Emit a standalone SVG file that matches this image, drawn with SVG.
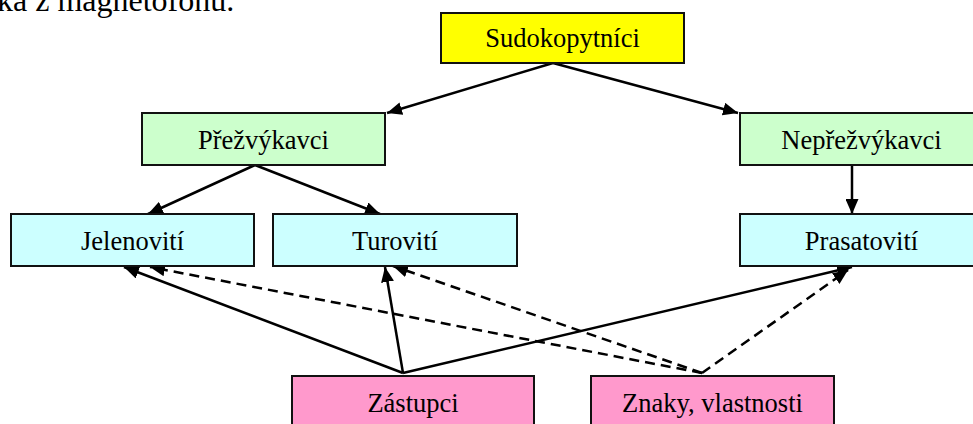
<svg xmlns="http://www.w3.org/2000/svg" width="973" height="424" viewBox="0 0 973 424">
<style>
.box{stroke:#111;stroke-width:2}
.t{font-family:"Liberation Serif","Times New Roman",serif;font-size:26.5px;fill:#000;text-anchor:middle}
.c{stroke:#000;stroke-width:2.5;fill:none;marker-end:url(#ah)}
.d{stroke-dasharray:10 6}
</style>
<defs>
<marker id="ah" markerUnits="userSpaceOnUse" markerWidth="16" markerHeight="13" refX="15" refY="6.5" orient="auto">
<path d="M0,0 L15,6.5 L0,13 z" fill="#000"/>
</marker>
</defs>
<rect width="973" height="424" fill="#fff"/>
<text x="-3" y="11" font-family="Liberation Serif, serif" font-size="32" fill="#000">ka z magnetofonu.</text>
<g id="connectors">
<line class="c" x1="553" y1="63" x2="387" y2="113"/>
<line class="c" x1="553" y1="63" x2="738" y2="113"/>
<line class="c" x1="255" y1="165" x2="148" y2="214"/>
<line class="c" x1="255" y1="165" x2="380" y2="214"/>
<line class="c" x1="852" y1="165" x2="852" y2="214"/>
<line class="c" x1="403" y1="373" x2="124" y2="267"/>
<line class="c" x1="403" y1="373" x2="385" y2="267"/>
<line class="c" x1="403" y1="373" x2="852" y2="267"/>
<line class="c d" x1="702" y1="373" x2="150" y2="267"/>
<line class="c d" x1="702" y1="373" x2="393" y2="266"/>
<line class="c d" x1="702" y1="373" x2="848" y2="270"/>
</g>
<g id="sudokopytnici"><rect class="box" x="441" y="13" width="243" height="50" fill="#FFFF00"/><text class="t" x="562.5" y="47">Sudokopytníci</text></g>
<g id="prezvykavci"><rect class="box" x="142" y="113" width="243" height="52" fill="#CCFFCC"/><text class="t" x="263.5" y="149">Přežvýkavci</text></g>
<g id="neprezvykavci"><rect class="box" x="740" y="113" width="243" height="52" fill="#CCFFCC"/><text class="t" x="861.5" y="149">Nepřežvýkavci</text></g>
<g id="jelenoviti"><rect class="box" x="11" y="214" width="243" height="52" fill="#CCFFFF"/><text class="t" x="132.5" y="250">Jelenovití</text></g>
<g id="turoviti"><rect class="box" x="273" y="214" width="244" height="52" fill="#CCFFFF"/><text class="t" x="395" y="250">Turovití</text></g>
<g id="prasatoviti"><rect class="box" x="740" y="214" width="243" height="52" fill="#CCFFFF"/><text class="t" x="861.5" y="250">Prasatovití</text></g>
<g id="zastupci"><rect class="box" x="292" y="376" width="242" height="52" fill="#FF99CC"/><text class="t" x="413" y="412">Zástupci</text></g>
<g id="znaky"><rect class="box" x="591" y="376" width="243" height="52" fill="#FF99CC"/><text class="t" x="712.5" y="412">Znaky, vlastnosti</text></g>
</svg>
